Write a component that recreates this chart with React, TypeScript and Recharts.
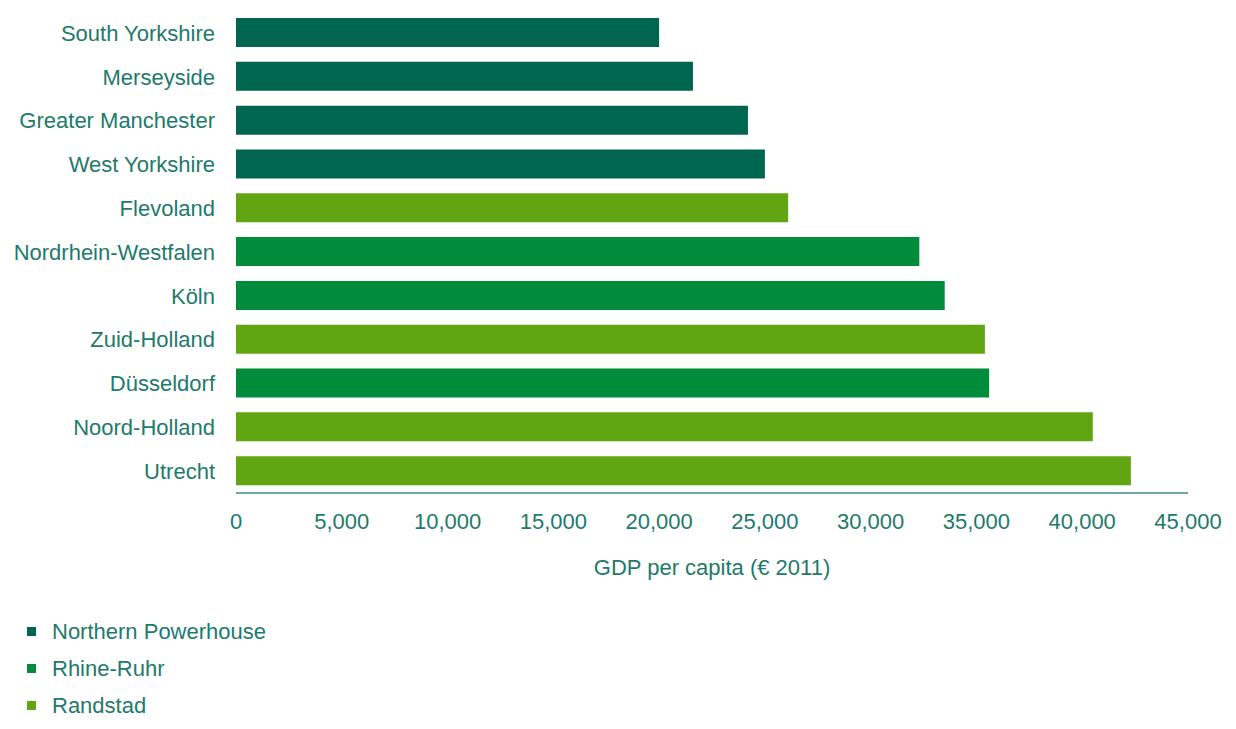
import { Bar, BarChart, Cell, Label, Legend, XAxis, YAxis } from "recharts";

const regions = [
  "South Yorkshire",
  "Merseyside",
  "Greater Manchester",
  "West Yorkshire",
  "Flevoland",
  "Nordrhein-Westfalen",
  "Köln",
  "Zuid-Holland",
  "Düsseldorf",
  "Noord-Holland",
  "Utrecht",
];
const gdpPerCapita = [20000, 21600, 24200, 25000, 26100, 32300, 33500, 35400, 35600, 40500, 42300];
const regionGroup = [0, 0, 0, 0, 2, 1, 1, 2, 1, 2, 2];

const groupNames = ["Northern Powerhouse", "Rhine-Ruhr", "Randstad"];
const groupColors = ["#00664f", "#008c3a", "#62a512"];
const xTicks = [0, 5000, 10000, 15000, 20000, 25000, 30000, 35000, 40000, 45000];

const textColor = "#217a6b";
const font = "'Liberation Sans', Arial, sans-serif";

const data = regions.map((name, i) => ({ name, gdp: gdpPerCapita[i], group: regionGroup[i] }));

const formatNumber = (v: number) => v.toLocaleString("en-US");

const GroupLegend = () => (
  <div style={{ height: 150, paddingTop: 34, boxSizing: "border-box", fontFamily: font }}>
    {groupNames.map((g, i) => (
      <div key={g} style={{ display: "flex", alignItems: "center", height: 37 }}>
        <span
          style={{
            display: "inline-block",
            width: 9,
            height: 9,
            marginLeft: 27,
            marginRight: 16,
            background: groupColors[i],
          }}
        />
        <span style={{ fontSize: 22, color: textColor }}>{g}</span>
      </div>
    ))}
  </div>
);

export default function App() {
  return (
    <div style={{ position: "absolute", left: 0, top: 0, width: 1236, height: 729, background: "#fff" }}>
      <BarChart
        width={1236}
        height={729}
        layout="vertical"
        data={data}
        margin={{ top: 11, right: 48, left: 0, bottom: 0 }}
        style={{ fontFamily: font }}
      >
        <XAxis
          type="number"
          domain={[0, 45000]}
          ticks={xTicks}
          tickFormatter={formatNumber}
          tickLine={false}
          tickSize={0}
          tickMargin={20}
          axisLine={{ stroke: "#70a9a1", strokeWidth: 2 }}
          tick={{ fill: textColor, fontSize: 22 }}
          height={86}
        >
          <Label
            value="GDP per capita (€ 2011)"
            position="insideBottom"
            offset={4}
            fill={textColor}
            fontSize={22}
          />
        </XAxis>
        <YAxis
          type="category"
          dataKey="name"
          width={236}
          tickLine={false}
          axisLine={false}
          tickSize={0}
          tickMargin={21}
          interval={0}
          tick={{ fill: textColor, fontSize: 22 }}
        />
        <Legend verticalAlign="bottom" layout="horizontal" align="left" content={GroupLegend} />
        <Bar dataKey="gdp" barSize={29} isAnimationActive={false}>
          {data.map((d) => (
            <Cell key={d.name} fill={groupColors[d.group]} />
          ))}
        </Bar>
      </BarChart>
    </div>
  );
}
